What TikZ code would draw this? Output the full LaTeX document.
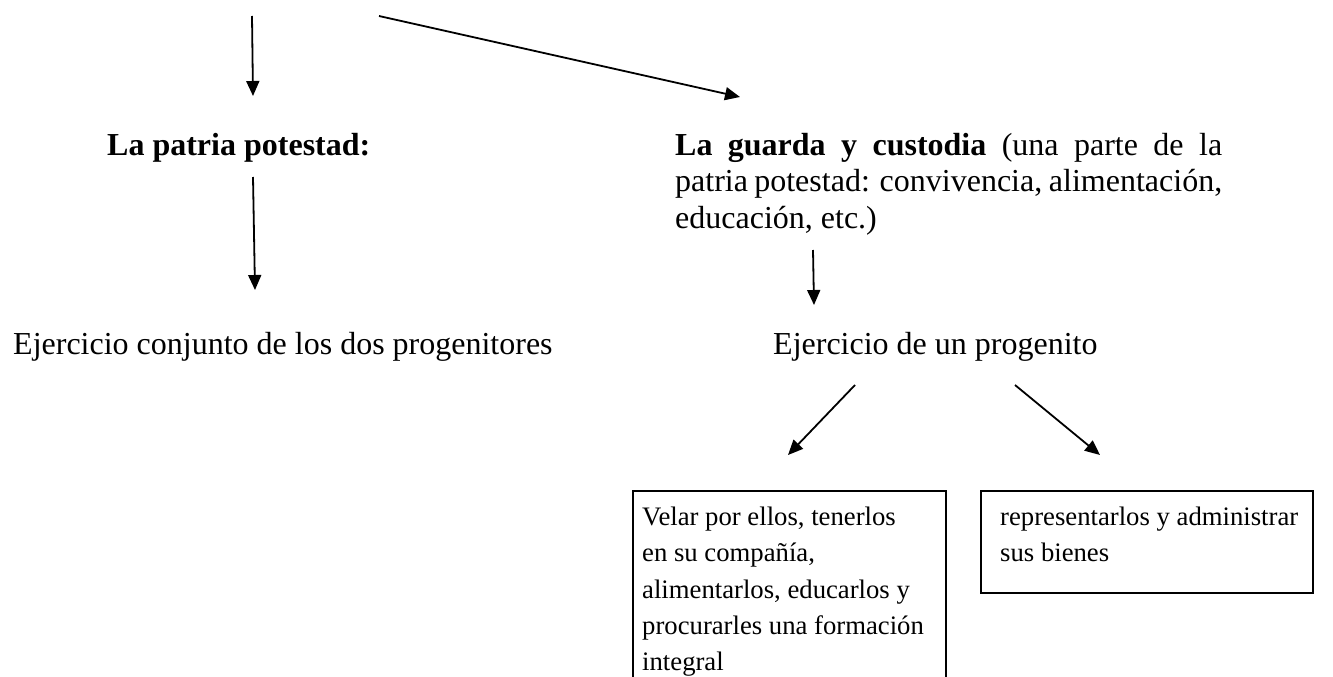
\documentclass[tikz,border=0pt]{standalone}
\usepackage{fontspec}
\setmainfont{Liberation Serif}
\usetikzlibrary{arrows.meta}
\begin{document}
\begin{tikzpicture}[x=1pt,y=-1pt,
  arr/.style={line width=1.8pt,-{Triangle[length=15pt,width=13pt]}},
  maintext/.style={font=\fontsize{32}{37}\selectfont,inner sep=0pt,anchor=base west},
  boxtext/.style={font=\fontsize{26.7}{36.5}\selectfont,inner sep=0pt,anchor=base west},
  boxframe/.style={draw,line width=1.6pt,inner sep=0pt,anchor=north west}]
\useasboundingbox (0,0) rectangle (1333,677);
% texts
\node[maintext] (pp) at (107,155) {\bfseries La patria potestad:};
\node[maintext] (gc1) at (675,155) {\makebox[547pt][s]{\textbf{La guarda y custodia} (una parte de la}};
\node[maintext] (gc2) at (675,191.5) {\makebox[547pt][s]{patria potestad: convivencia, alimentación,}};
\node[maintext] (gc3) at (675,228) {educación, etc.)};
\node[maintext] (ej1) at (13,354) {Ejercicio conjunto de los dos progenitores};
\node[maintext] (ej2) at (773,354) {Ejercicio de un progenito};
% boxes
\node[boxframe,minimum width=313pt,minimum height=230pt] (b1) at (632,490) {};
\node[boxframe,minimum width=332pt,minimum height=102pt] (b2) at (980,490) {};
\node[boxtext] (t11) at (642,525) {Velar por ellos, tenerlos};
\node[boxtext] (t12) at (642,561.5) {en su compañía,};
\node[boxtext] (t13) at (642,598) {alimentarlos, educarlos y};
\node[boxtext] (t14) at (642,634.5) {procurarles una formación};
\node[boxtext] (t15) at (642,670) {integral};
\node[boxtext] (t21) at (1000,525) {representarlos y administrar};
\node[boxtext] (t22) at (1000,561) {sus bienes};
% arrow end points
\coordinate (s1) at (252,16);  \coordinate (e1) at (253,96);
\coordinate (s2) at (379,16);  \coordinate (e2) at (740,97);
\coordinate (s3) at (253,177); \coordinate (e3) at (255,290);
\coordinate (s4) at (813,250); \coordinate (e4) at (814,305);
\coordinate (s5) at (855,385); \coordinate (e5) at (788,455);
\coordinate (s6) at (1015,385); \coordinate (e6) at (1100,455);
\draw[arr] (s1) -- (e1);
\draw[arr] (s2) -- (e2);
\draw[arr] (s3) -- (e3);
\draw[arr] (s4) -- (e4);
\draw[arr] (s5) -- (e5);
\draw[arr] (s6) -- (e6);
\end{tikzpicture}
\end{document}
